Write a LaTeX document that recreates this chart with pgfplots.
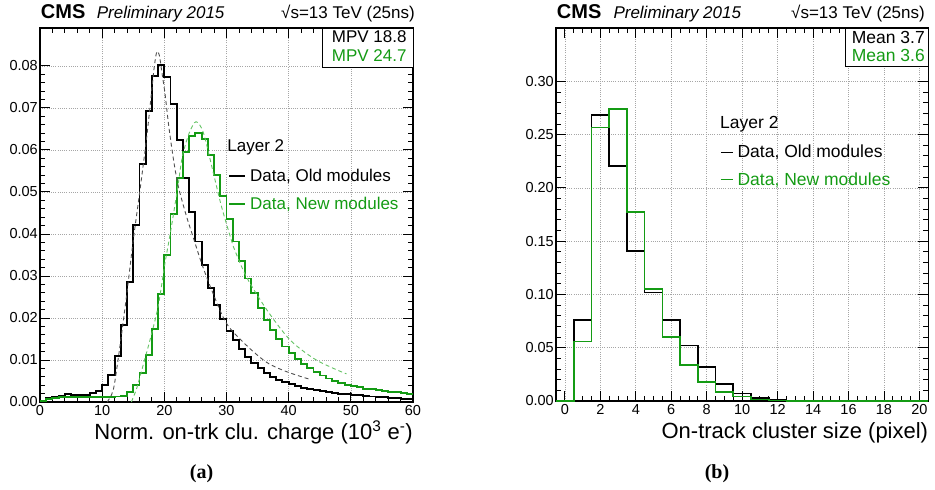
\documentclass[border=0pt]{standalone}
\usepackage{pgfplots}
\pgfplotsset{compat=1.18}
\usepackage{fontspec}
\setmainfont{Liberation Sans}
\newfontfamily\seriffont{Liberation Serif}
\definecolor{cmsgreen}{RGB}{20,155,20}
\definecolor{fitgray}{RGB}{80,80,80}
\definecolor{fitgreen}{RGB}{100,195,100}

\pgfplotsset{
  rootstyle/.style={
    scale only axis,
    axis line style={line width=1.1pt},
    tick pos=both,
    tick align=inside,
    major tick length=10pt,
    minor tick length=5pt,
    tick style={black, line width=0.8pt},
    grid=major,
    major grid style={gray!70, line width=0.6pt, dash pattern=on 1pt off 1.2pt},
    ticklabel style={font=\fontsize{14.5}{16}\selectfont},
    /pgf/number format/assume math mode=true,
    xticklabel style={inner sep=3pt},
    yticklabel style={inner sep=2pt, /pgf/number format/fixed, /pgf/number format/fixed zerofill, /pgf/number format/precision=2},
    scaled y ticks=false,
    xlabel style={at={(axis description cs:1,0)}, anchor=base east, inner sep=0pt, yshift=-37.5pt, font=\fontsize{22}{24}\selectfont},
    legend cell align=left,
  }
}

\begin{document}
\begin{tikzpicture}
\useasboundingbox (0pt,0pt) rectangle (935pt,-490pt);

% ---------------- left panel ----------------
\begin{axis}[rootstyle,
  width=373pt, height=374pt, at={(40pt,-402pt)}, anchor=south west,
  xmin=0, xmax=60, ymin=0, ymax=0.089,
  xtick={0,10,20,30,40,50,60}, minor x tick num=4,
  ytick={0,0.01,0.02,0.03,0.04,0.05,0.06,0.07,0.08}, minor y tick num=4,
  xlabel={Norm. on-trk clu. charge (10\textsuperscript{3} e\textsuperscript{-})},
  legend style={draw=none, fill=none, at={(axis description cs:0.5048,0.6222)}, anchor=north west,
    inner sep=0pt, outer sep=0pt, row sep=14pt, column sep=4pt,
    font=\fontsize{17}{20}\selectfont, nodes={inner sep=0pt, outer sep=0pt}},
  legend image code/.code={\draw[#1] (0pt,0pt) -- (16pt,0pt); \path (0pt,-4.2pt);},
]
\addplot[const plot mark left, black, line width=1.9pt] coordinates {
(0,0.0003) (1,0.0009) (2,0.0013) (3,0.0015) (4,0.0018) (5,0.0017) (6,0.0017) (7,0.0017) (8,0.0021) (9,0.0026)
(10,0.0040) (11,0.0064) (12,0.0110) (13,0.0183) (14,0.0286) (15,0.0421) (16,0.0566) (17,0.0693) (18,0.0775) (19,0.0802)
(20,0.0773) (21,0.0709) (22,0.0624) (23,0.0534) (24,0.0453) (25,0.0382) (26,0.0325) (27,0.0271) (28,0.0230) (29,0.0197)
(30,0.0170) (31,0.0147) (32,0.0127) (33,0.0108) (34,0.0093) (35,0.0080) (36,0.0069) (37,0.0060) (38,0.0053) (39,0.0047)
(40,0.0042) (41,0.0038) (42,0.0034) (43,0.0031) (44,0.0028) (45,0.0026) (46,0.0024) (47,0.0022) (48,0.0020) (49,0.0019)
(50,0.0017) (51,0.0016) (52,0.0014) (53,0.0013) (54,0.0012) (55,0.0011) (56,0.0010) (57,0.0009) (58,0.0008) (59,0.0007)
(60,0.0007)};
\addlegendentry{Data, Old modules}
\addplot[const plot mark left, cmsgreen, line width=1.9pt] coordinates {
(0,0.0003) (1,0.0008) (2,0.0010) (3,0.0012) (4,0.0012) (5,0.0012) (6,0.0011) (7,0.0011) (8,0.0011) (9,0.0011)
(10,0.0011) (11,0.0011) (12,0.0013) (13,0.0015) (14,0.0024) (15,0.0040) (16,0.0068) (17,0.0112) (18,0.0173) (19,0.0256)
(20,0.0350) (21,0.0448) (22,0.0533) (23,0.0596) (24,0.0632) (25,0.0640) (26,0.0625) (27,0.0588) (28,0.0540) (29,0.0491)
(30,0.0435) (31,0.0382) (32,0.0336) (33,0.0294) (34,0.0259) (35,0.0223) (36,0.0195) (37,0.0171) (38,0.0149) (39,0.0132)
(40,0.0116) (41,0.0102) (42,0.0090) (43,0.0080) (44,0.0071) (45,0.0063) (46,0.0056) (47,0.0050) (48,0.0045) (49,0.0041)
(50,0.0038) (51,0.0035) (52,0.0032) (53,0.0030) (54,0.0028) (55,0.0026) (56,0.0024) (57,0.0023) (58,0.0021) (59,0.0020)
(60,0.0020)};
\addlegendentry{\textcolor{cmsgreen}{Data, New modules}}
% fits
\addplot[smooth, fitgray, line width=0.9pt, dash pattern=on 4pt off 3pt, forget plot] coordinates {
(10.8,0.0000) (11.5,0.0017) (12,0.0045) (13,0.0148) (14,0.0262) (15,0.0385) (16,0.0495) (17,0.0610) (17.5,0.0675)
(18,0.0745) (18.4,0.0800) (18.8,0.0834) (19.2,0.0825) (19.6,0.0785) (20.1,0.0735) (20.6,0.0670) (21,0.0625) (21.6,0.0565)
(22.3,0.0510) (23.5,0.0445) (24.6,0.0394) (26,0.0330) (27.6,0.0267) (30,0.0187) (33.2,0.0135) (36.5,0.0094) (39.7,0.0072) (43.4,0.0054)};
\addplot[smooth, fitgreen, line width=0.9pt, dash pattern=on 4pt off 3pt, forget plot] coordinates {
(14.7,0.0000) (15.5,0.0030) (16.1,0.0061) (17,0.0110) (17.7,0.0148) (19,0.0227) (20.1,0.0330) (21,0.0405) (22.1,0.0505)
(22.9,0.0584) (24,0.0640) (25.1,0.0667) (26.3,0.0640) (27.9,0.0544) (29.2,0.0465) (30.6,0.0394) (31.1,0.0370) (33.2,0.0298)
(36.5,0.0219) (40.2,0.0148) (44,0.0104) (47.2,0.0080) (49.3,0.0067)};
\filldraw[fill=white, draw=black, line width=0.9pt] (axis description cs:0.758,0.894) rectangle (axis description cs:1,1);
\node[anchor=base west, inner sep=0pt, font=\fontsize{17}{20}\selectfont] at (axis description cs:0.782,0.960) {MPV 18.8};
\node[anchor=base west, inner sep=0pt, font=\fontsize{17}{20}\selectfont, text=cmsgreen] at (axis description cs:0.782,0.910) {MPV 24.7};
\node[anchor=base west, inner sep=0pt, font=\fontsize{17}{20}\selectfont] at (axis description cs:0.502,0.669) {Layer 2};
\end{axis}

% ---------------- right panel ----------------
\begin{axis}[rootstyle,
  width=372.3pt, height=373pt, at={(556pt,-401pt)}, anchor=south west,
  xmin=-0.5, xmax=20.5, ymin=0, ymax=0.35,
  xtick={0,2,4,6,8,10,12,14,16,18,20}, minor x tick num=3,
  ytick={0,0.05,0.10,0.15,0.20,0.25,0.30}, minor y tick num=4,
  xlabel={On-track cluster size (pixel)},
  legend style={draw=none, fill=none, at={(axis description cs:0.4405,0.6855)}, anchor=north west,
    inner sep=0pt, outer sep=0pt, row sep=13pt, column sep=4pt,
    font=\fontsize{17.5}{20}\selectfont, nodes={inner sep=0pt, outer sep=0pt}},
  legend image code/.code={\draw[#1] (0pt,0pt) -- (12pt,0pt); \path (0pt,-4.2pt);},
]
\addplot[const plot mark left, black, line width=1.6pt] coordinates {
(-0.5,0) (0.5,0.0760) (1.5,0.2683) (2.5,0.2205) (3.5,0.1410) (4.5,0.1020) (5.5,0.0760) (6.5,0.0519) (7.5,0.0320)
(8.5,0.0160) (9.5,0.0070) (10.5,0.0028) (11.5,0.0011) (12.5,0.0004) (13.5,0.0002) (14.5,0.0001) (15.5,0) (16.5,0)
(17.5,0) (18.5,0) (19.5,0) (20.5,0)};
\addlegendentry{Data, Old modules}
\addplot[const plot mark left, cmsgreen, line width=1.6pt] coordinates {
(-0.5,0) (0.5,0.0557) (1.5,0.2567) (2.5,0.2739) (3.5,0.1776) (4.5,0.1051) (5.5,0.0603) (6.5,0.0338) (7.5,0.0178)
(8.5,0.0085) (9.5,0.0042) (10.5,0.0015) (11.5,0.0006) (12.5,0.0002) (13.5,0.0001) (14.5,0) (15.5,0) (16.5,0)
(17.5,0) (18.5,0) (19.5,0) (20.5,0)};
\addlegendentry{\textcolor{cmsgreen}{Data, New modules}}
\filldraw[fill=white, draw=black, line width=0.9pt] (axis description cs:0.778,0.896) rectangle (axis description cs:1,1);
\node[anchor=base west, inner sep=0pt, font=\fontsize{17.5}{20}\selectfont] at (axis description cs:0.794,0.959) {Mean 3.7};
\node[anchor=base west, inner sep=0pt, font=\fontsize{17.5}{20}\selectfont, text=cmsgreen] at (axis description cs:0.794,0.910) {Mean 3.6};
\node[anchor=base west, inner sep=0pt, font=\fontsize{17.5}{20}\selectfont] at (axis description cs:0.4405,0.731) {Layer 2};
\end{axis}

% ---------------- headers and captions ----------------
\begin{scope}[every node/.style={inner sep=0pt}]
\node[anchor=base west, font=\fontsize{20}{22}\selectfont\bfseries] at (40.7pt,-18.3pt) {CMS};
\node[anchor=base west, font=\fontsize{17}{20}\selectfont\itshape] at (96.7pt,-18.3pt) {Preliminary 2015};
\node[anchor=base east, font=\fontsize{17}{20}\selectfont] at (415pt,-18.3pt) {√s=13 TeV (25ns)};
\node[anchor=base west, font=\fontsize{20}{22}\selectfont\bfseries] at (556.7pt,-18.3pt) {CMS};
\node[anchor=base west, font=\fontsize{17}{20}\selectfont\itshape] at (613.3pt,-18.3pt) {Preliminary 2015};
\node[anchor=base east, font=\fontsize{17}{20}\selectfont] at (925pt,-18.3pt) {√s=13 TeV (25ns)};
\node[anchor=base, font=\fontsize{20}{22}\selectfont\seriffont\bfseries] at (201.5pt,-478pt) {(a)};
\node[anchor=base, font=\fontsize{20}{22}\selectfont\seriffont\bfseries] at (717pt,-478pt) {(b)};
\end{scope}
\end{tikzpicture}
\end{document}
